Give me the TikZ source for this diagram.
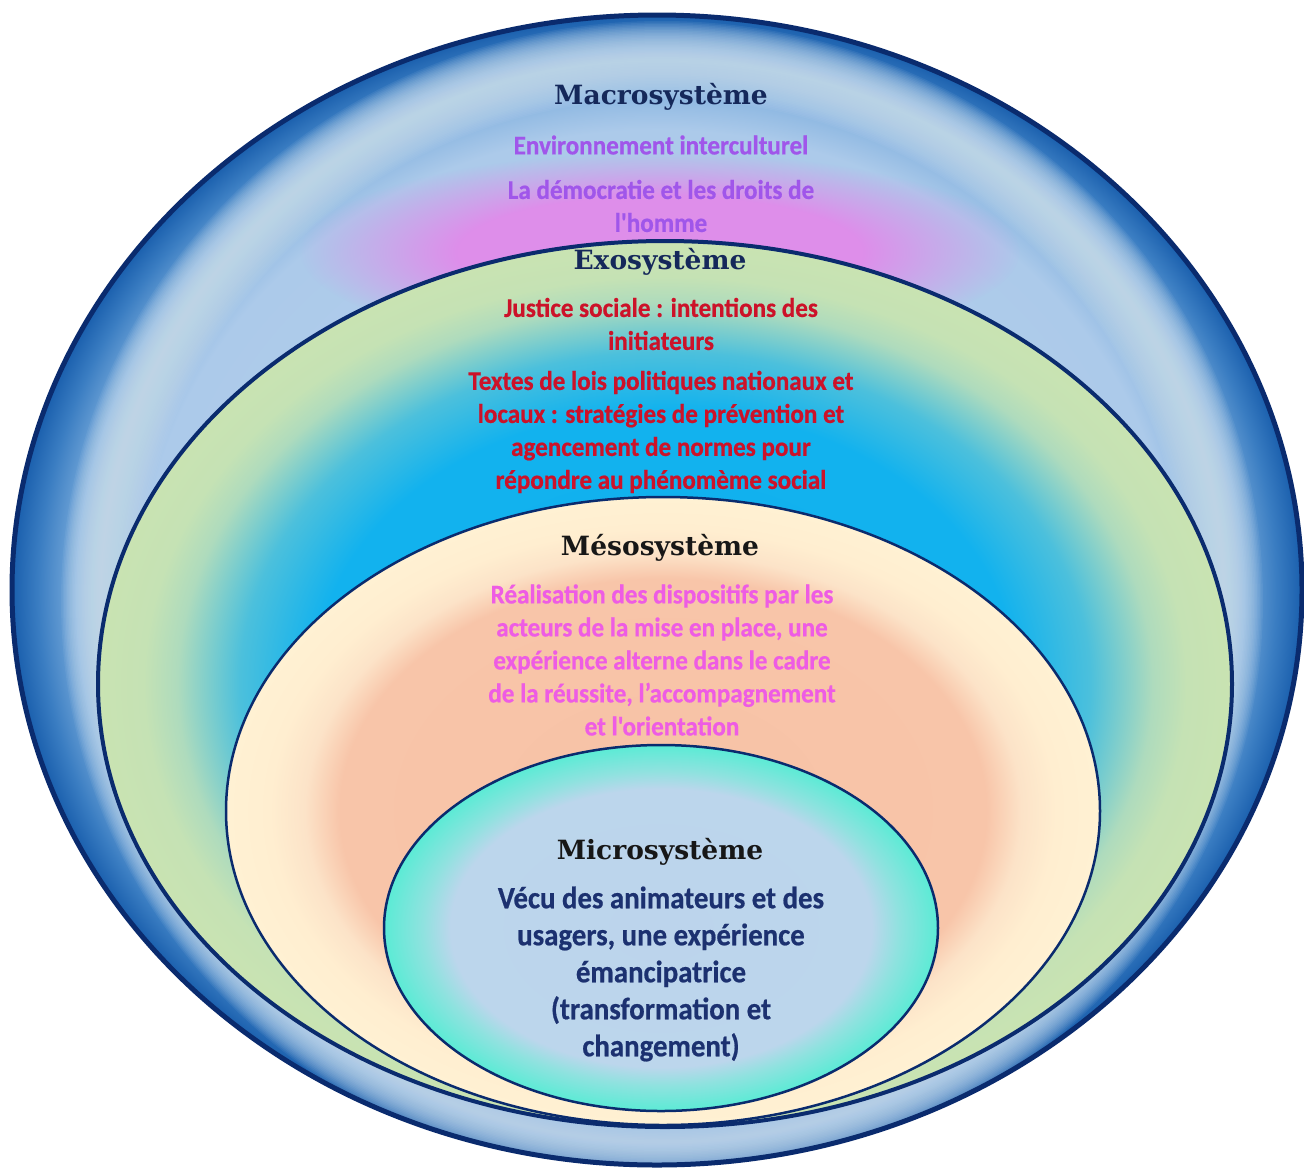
\documentclass[tikz,border=0pt]{standalone}
\usepackage{fontspec}
\usetikzlibrary{fadings}
\setmainfont{Carlito}[BoldFeatures={FakeBold=0.6}]
\newfontfamily\bodyfont{Carlito}[BoldFeatures={FakeBold=0.6,FakeStretch=0.93}]
\newfontfamily\titlefont{DejaVu Serif}
\definecolor{mA}{HTML}{B8D1EE}
\definecolor{mD}{HTML}{ACCAEA}
\definecolor{mE}{HTML}{7AACDC}
\definecolor{mF}{HTML}{3A7DC2}
\definecolor{mH}{HTML}{1A5FAD}
\definecolor{streak}{HTML}{CCE0F2}
\definecolor{glowpink}{HTML}{DE8EEA}
\definecolor{eA}{HTML}{10B0EF}
\definecolor{eB}{HTML}{12B2EE}
\definecolor{eC}{HTML}{4CC0DC}
\definecolor{eD}{HTML}{AEDBBD}
\definecolor{eE}{HTML}{C5E2B4}
\definecolor{eF}{HTML}{C9E3B2}
\definecolor{sA}{HTML}{F7C2A6}
\definecolor{sB}{HTML}{F8C5A9}
\definecolor{sC}{HTML}{FCE3C8}
\definecolor{sD}{HTML}{FFEED0}
\definecolor{sE}{HTML}{FFF1D3}
\definecolor{iA}{HTML}{BCD4EC}
\definecolor{iB}{HTML}{BCD6EC}
\definecolor{iC}{HTML}{8FE2DF}
\definecolor{iD}{HTML}{5BEBD5}
\definecolor{rim}{HTML}{0A2B6E}
\definecolor{navyT}{HTML}{15285A}
\definecolor{blackT}{HTML}{171717}
\definecolor{violetT}{HTML}{A056EA}
\definecolor{redT}{HTML}{CC1229}
\definecolor{pinkT}{HTML}{EE5CE4}
\definecolor{microT}{HTML}{1C3170}
\pgfdeclareradialshading{macroshade}{\pgfpoint{0bp}{0bp}}{color(0bp)=(mA); color(20bp)=(mD); color(22.5bp)=(mE); color(24bp)=(mF); color(25bp)=(mH); color(50bp)=(mH)}
\pgfdeclareradialshading{exoshade}{\pgfpoint{0bp}{0bp}}{color(0bp)=(eA); color(15.5bp)=(eB); color(18.75bp)=(eC); color(21.5bp)=(eD); color(23bp)=(eE); color(25bp)=(eF); color(50bp)=(eF)}
\pgfdeclareradialshading{mesoshade}{\pgfpoint{0bp}{0bp}}{color(0bp)=(sA); color(18.5bp)=(sB); color(20.5bp)=(sC); color(22.5bp)=(sD); color(25bp)=(sE); color(50bp)=(sE)}
\pgfdeclareradialshading{microshade}{\pgfpoint{0bp}{0bp}}{color(0bp)=(iA); color(19bp)=(iB); color(21.5bp)=(iC); color(25bp)=(iD); color(50bp)=(iD)}
\pgfdeclareradialshading{glowshade}{\pgfpoint{0bp}{0bp}}{color(0bp)=(white); color(14bp)=(white); color(25bp)=(black); color(50bp)=(black)}
\pgfdeclarefading{glowfade}{\pgfuseshading{glowshade}}
\begin{document}
\begin{tikzpicture}[x=1pt,y=-1pt,
  titletext/.style={font=\titlefont\bfseries\fontsize{26.5}{30}\selectfont, inner sep=0pt},
  bodytext/.style={font=\bodyfont\bfseries\fontsize{27}{33}\selectfont, align=center, inner sep=0pt},
  microtext/.style={font=\bodyfont\bfseries\fontsize{31}{37}\selectfont, align=center, inner sep=0pt},
  streakline/.style={draw=streak, line width=#1, draw opacity=0.075}]
\useasboundingbox[fill=white] (0,0) rectangle (1304,1171);
% macro
\shade[shading=macroshade] (657,590) ellipse [x radius=645pt, y radius=575pt];
\begin{scope}
\clip (657,590) ellipse [x radius=645pt, y radius=575pt];
\foreach \w in {3,6,...,78}
  \path[streakline=\w pt] (662,601) ellipse [x radius=562pt, y radius=541pt];
\end{scope}
\fill[glowpink, path fading=glowfade] (660,252) ellipse [x radius=360pt, y radius=100pt];
\draw[rim, line width=5pt] (657,590) ellipse [x radius=645pt, y radius=575pt];
% exo
\shade[shading=exoshade] (665,684) ellipse [x radius=567pt, y radius=443pt];
\draw[rim, line width=4pt] (665,684) ellipse [x radius=567pt, y radius=443pt];
% meso
\shade[shading=mesoshade] (663,811) ellipse [x radius=437pt, y radius=314pt];
\draw[rim, line width=2.5pt] (663,811) ellipse [x radius=437pt, y radius=314pt];
% micro
\shade[shading=microshade] (661,928) ellipse [x radius=277pt, y radius=183pt];
\draw[rim, line width=2.5pt] (661,928) ellipse [x radius=277pt, y radius=183pt];
% texts
\node[titletext, text=navyT] (macroT) at (661,97) {Macrosystème};
\node[bodytext, text=violetT] (macro1) at (661,145) {Environnement interculturel};
\node[bodytext, text=violetT] (macro2) at (661,206) {La démocratie et les droits de\\l'homme};
\node[titletext, text=navyT] (exoT) at (660,262) {Exosystème};
\node[bodytext, text=redT] (exo1) at (661,324) {Justice sociale : intentions des\\initiateurs};
\node[bodytext, text=redT] (exo2) at (661,432) {Textes de lois politiques nationaux et\\locaux : stratégies de prévention et\\agencement de normes pour\\répondre au phénomème social};
\node[titletext, text=blackT] (mesoT) at (660,548) {Mésosystème};
\node[bodytext, text=pinkT] (meso1) at (662,660) {Réalisation des dispositifs par les\\acteurs de la mise en place, une\\expérience alterne dans le cadre\\de la réussite, l’accompagnement\\et l'orientation};
\node[titletext, text=blackT] (microT) at (660,852) {Microsystème};
\node[microtext, text=microT] (micro1) at (661,974) {Vécu des animateurs et des\\usagers, une expérience\\émancipatrice\\(transformation et\\changement)};
\end{tikzpicture}
\end{document}
